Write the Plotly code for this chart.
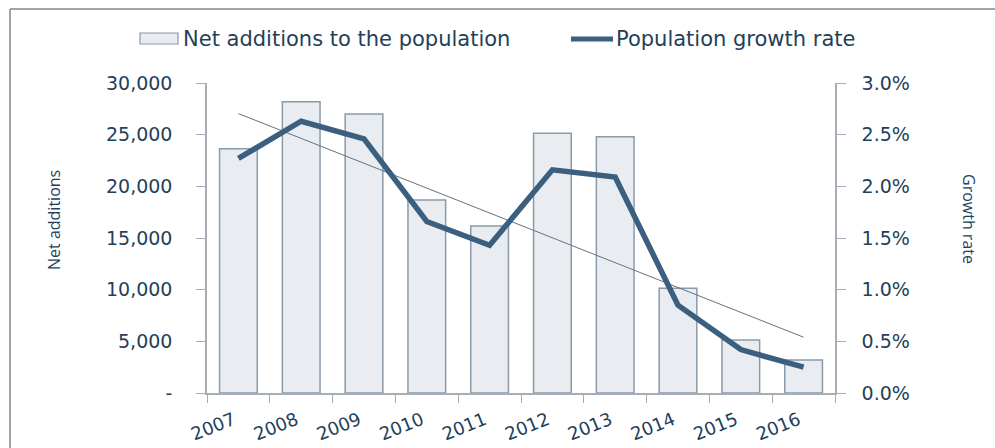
import numpy as np
import plotly.graph_objects as go

years = ["2007", "2008", "2009", "2010", "2011", "2012", "2013", "2014", "2015", "2016"]
net_additions = [23640, 28190, 27000, 18680, 16160, 25130, 24800, 10130, 5130, 3190]
growth_rate = [0.0227, 0.0263, 0.0246, 0.0166, 0.0143, 0.0216, 0.0209, 0.0085, 0.0042, 0.0025]
left_ticks = [0, 5000, 10000, 15000, 20000, 25000, 30000]
left_ticktext = ["-", "5,000", "10,000", "15,000", "20,000", "25,000", "30,000"]
right_ticks = [0, 0.005, 0.01, 0.015, 0.02, 0.025, 0.03]

# linear trendline of the growth rate (as in the source chart)
idx = np.arange(len(years))
slope, intercept = np.polyfit(idx, growth_rate, 1)
trend = list(intercept + slope * idx)

W, H = 995, 448
L, R, T, B = 207, 835, 83, 393
TXT = "#243f5a"
LINE = "#3b5f7e"
FONT = "DejaVu Sans"

fig = go.Figure()
fig.add_trace(go.Bar(
    x=years, y=net_additions, name="Net additions to the population",
    marker=dict(color="#e9edf1", line=dict(color="#8b9aa9", width=1.5)),
    width=0.6, showlegend=False, yaxis="y"))
fig.add_trace(go.Scatter(
    x=years, y=trend, mode="lines", line=dict(color="#5f7487", width=1),
    showlegend=False, yaxis="y2", hoverinfo="skip"))
fig.add_trace(go.Scatter(
    x=years, y=growth_rate, mode="lines", name="Population growth rate",
    line=dict(color=LINE, width=5.5), showlegend=False, yaxis="y2"))

def px(x):
    return (x - L) / (R - L)

def py(y):
    return (B - y) / (B - T)

fig.update_layout(
    width=W, height=H,
    margin=dict(l=L, r=W - R, t=T, b=H - B, pad=0, autoexpand=False),
    paper_bgcolor="white", plot_bgcolor="white",
    font=dict(family=FONT, color=TXT, size=19),
    xaxis=dict(type="category", tickson="boundaries", ticks="outside", ticklen=8,
               tickcolor="#a6adb4", showline=True, linecolor="#a6adb4", linewidth=1.5,
               showgrid=False, tickangle=-22, tickfont=dict(size=18, color=TXT),
               ticklabelstandoff=8, ticklabelshift=-5, range=[-0.5, 9.5],
               automargin=False),
    yaxis=dict(range=[0, 30000], tickvals=left_ticks, ticktext=left_ticktext,
               ticks="outside", ticklen=9, tickcolor="#a6adb4", showline=True,
               linecolor="#a6adb4", linewidth=1.5, showgrid=False, zeroline=False,
               ticklabelstandoff=20, tickfont=dict(size=19, color=TXT), automargin=False),
    yaxis2=dict(range=[0, 0.03], tickvals=right_ticks, tickformat=".1%",
                overlaying="y", side="right", ticks="outside", ticklen=9,
                tickcolor="#a6adb4", showline=True, linecolor="#a6adb4", linewidth=1.5,
                showgrid=False, zeroline=False, ticklabelstandoff=12,
                tickfont=dict(size=19, color=TXT), automargin=False),
    showlegend=False,
)

# frame around chart
fig.add_shape(type="line", xref="paper", yref="paper",
              x0=px(10), x1=px(995), y0=py(9), y1=py(9),
              line=dict(color="#9aa6b0", width=2))
fig.add_shape(type="line", xref="paper", yref="paper",
              x0=px(10), x1=px(10), y0=py(9), y1=py(448),
              line=dict(color="#9aa6b0", width=2))

# custom legend
fig.add_shape(type="rect", xref="paper", yref="paper",
              x0=px(140), x1=px(178), y0=py(33), y1=py(44),
              fillcolor="#e9edf1", line=dict(color="#8b9aa9", width=1.2))
fig.add_annotation(xref="paper", yref="paper", x=px(181), y=py(39),
                   text="Net additions to the population", showarrow=False,
                   xanchor="left", yanchor="middle", font=dict(size=21, color=TXT))
fig.add_shape(type="line", xref="paper", yref="paper",
              x0=px(571), x1=px(613), y0=py(39), y1=py(39),
              line=dict(color=LINE, width=5))
fig.add_annotation(xref="paper", yref="paper", x=px(614), y=py(39),
                   text="Population growth rate", showarrow=False,
                   xanchor="left", yanchor="middle", font=dict(size=21, color=TXT))

# axis titles
fig.add_annotation(xref="paper", yref="paper", x=px(54), y=py(220),
                   text="Net additions", showarrow=False, textangle=-90,
                   xanchor="center", yanchor="middle",
                   font=dict(family="Open Sans", size=16, color=TXT))
fig.add_annotation(xref="paper", yref="paper", x=px(969), y=py(219),
                   text="Growth rate", showarrow=False, textangle=90,
                   xanchor="center", yanchor="middle",
                   font=dict(family="Open Sans", size=16, color=TXT))

fig.write_html("out.html")
